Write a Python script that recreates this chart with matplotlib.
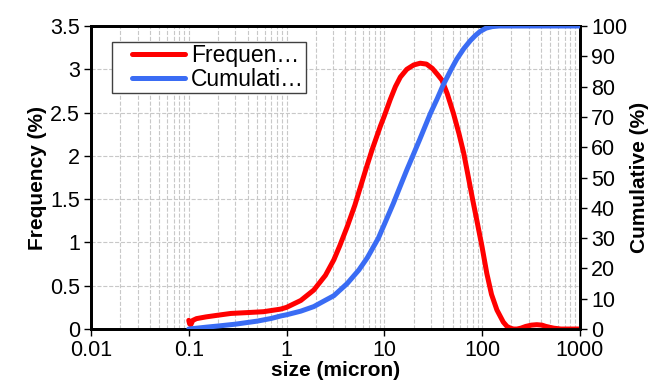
import matplotlib
matplotlib.use("Agg")
import numpy as np
from matplotlib import pyplot as plt
from matplotlib.ticker import LogLocator, FixedLocator, FixedFormatter, NullFormatter

plt.rcParams['font.family'] = ['Liberation Sans', 'DejaVu Sans']

# ------------------------------
# Data
# ------------------------------
freq_size = [0.1, 0.102, 0.105, 0.11, 0.12, 0.15, 0.2, 0.27, 0.4, 0.58, 0.87, 1.0, 1.4,
             1.9, 2.5, 3.05, 3.5, 4.17, 5.0, 5.7, 6.5, 7.5, 9.1, 10, 11.5, 13, 14.6,
             17, 20, 23.3, 27, 31, 35, 38.9, 44, 51, 58, 65, 72, 80, 89, 100, 112,
             125, 142, 165, 180, 195, 210, 228, 250, 280, 320, 363, 410, 450, 540,
             640, 740, 1000]
freq_pct = [0.10, 0.06, 0.05, 0.10, 0.12, 0.14, 0.16, 0.18, 0.19, 0.20, 0.23, 0.25, 0.33,
            0.45, 0.62, 0.80, 0.96, 1.18, 1.43, 1.64, 1.85, 2.07, 2.34, 2.46, 2.65, 2.80,
            2.91, 3.00, 3.05, 3.07, 3.06, 3.01, 2.94, 2.875, 2.72, 2.49, 2.26, 2.03, 1.77,
            1.50, 1.24, 0.95, 0.64, 0.40, 0.22, 0.08, 0.03, 0.01, 0.0, 0.0, 0.01, 0.03,
            0.045, 0.05, 0.045, 0.03, 0.01, 0.0, 0.0, 0.0]

cum_size = [0.1, 0.15, 0.2, 0.3, 0.5, 0.7, 0.87, 1.0, 1.4, 1.9, 2.5, 3.05, 4.17, 5.5,
            6.7, 8.7, 10, 12.4, 14.3, 17, 19.2, 23, 29.5, 35, 40, 48, 55, 65, 76, 85,
            95.5, 110, 127, 150, 200, 1000]
cum_pct = [0, 0.6, 1.0, 1.6, 2.6, 3.5, 4.3, 4.7, 5.9, 7.4, 9.5, 11.0, 15.0, 19.5,
           23.5, 30, 34.5, 41.5, 46.5, 52.5, 56.5, 62.5, 71, 76.2, 80.5, 85.5, 89,
           92.5, 95.2, 96.8, 98.2, 99.3, 99.8, 100, 100, 100]

x_ticks = [0.01, 0.1, 1, 10, 100, 1000]
x_labels = ['0.01', '0.1', '1', '10', '100', '1000']
freq_ticks = [0, 0.5, 1, 1.5, 2, 2.5, 3, 3.5]
freq_labels = ['0', '0.5', '1', '1.5', '2', '2.5', '3', '3.5']
cum_ticks = list(range(0, 101, 10))

RED = '#ff0000'
BLUE = '#3a6cf4'

# ------------------------------
# Figure
# ------------------------------
fig = plt.figure(figsize=(6.5, 3.88), dpi=100)
ax = fig.add_axes([0.14, 0.152, 0.752, 0.781])
ax2 = ax.twinx()

l1, = ax.plot(freq_size, freq_pct, color=RED, lw=3.6, solid_capstyle='round',
              solid_joinstyle='round', label='Frequen…', zorder=3)
l2, = ax2.plot(cum_size, cum_pct, color=BLUE, lw=3.6, solid_capstyle='round',
               solid_joinstyle='round', label='Cumulati…', zorder=3)

ax.set_xscale('log')
ax.set_xlim(0.01, 1000)
ax.set_ylim(0, 3.5)
ax2.set_ylim(0, 100)

ax.xaxis.set_major_locator(FixedLocator(x_ticks))
ax.xaxis.set_major_formatter(FixedFormatter(x_labels))
ax.xaxis.set_minor_locator(LogLocator(base=10, subs=range(2, 10), numticks=20))
ax.xaxis.set_minor_formatter(NullFormatter())
ax.set_yticks(freq_ticks)
ax.set_yticklabels(freq_labels)
ax2.set_yticks(cum_ticks)

ax.grid(True, which='major', axis='both', color='#c8c8c8', ls='--', lw=0.8)
ax.grid(True, which='minor', axis='x', color='#c8c8c8', ls='--', lw=0.8)
ax.set_axisbelow(True)

for a in (ax, ax2):
    for s in a.spines.values():
        s.set_linewidth(2)
        s.set_color('black')
    a.tick_params(which='major', direction='out', length=5, width=1, labelsize=15.5, pad=3)
    a.tick_params(which='minor', length=0)

ax.set_xlabel('size (micron)', fontsize=15, fontweight='bold', labelpad=0)
ax.set_ylabel('Frequency (%)', fontsize=15, fontweight='bold', labelpad=2)
ax2.set_ylabel('Cumulative (%)', fontsize=15, fontweight='bold', labelpad=2)

leg = ax.legend(handles=[l1, l2], loc='upper left', bbox_to_anchor=(0.043, 0.948),
                fontsize=16.5, frameon=True, fancybox=False, framealpha=1,
                edgecolor='#404040', borderpad=0.1, labelspacing=0.05,
                handlelength=3.1, handletextpad=0.25, borderaxespad=0)
leg.get_frame().set_linewidth(1)

# gap between legend frame and the start of each handle line (legend units are points)
for ln in leg.get_lines():
    xd = np.asarray(ln.get_xdata(), dtype=float)
    ln.set_xdata(np.linspace(xd[0] + 12.5, xd[-1], len(xd)))

fig.savefig('out.png', dpi=100)
